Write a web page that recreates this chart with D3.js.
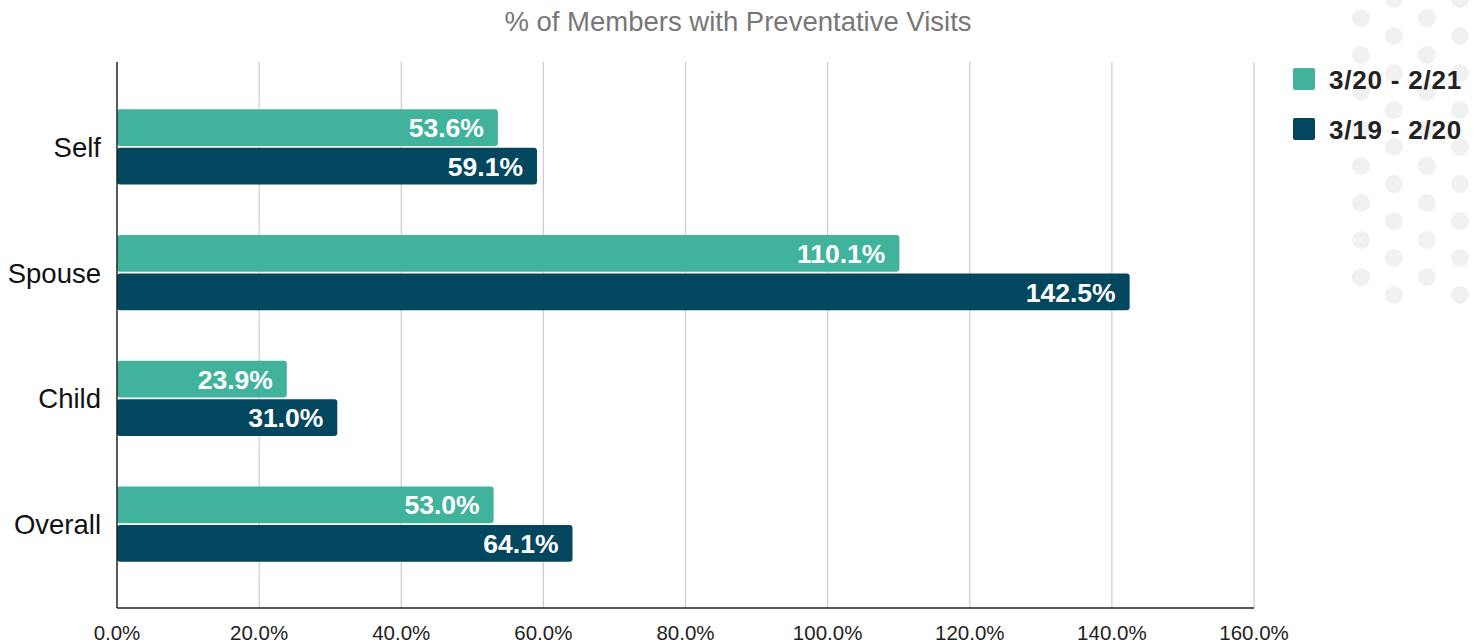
<!DOCTYPE html>
<html>
  <head>
    <title>Preventative Visits</title>
    <script src="https://d3js.org/d3.v7.min.js"></script>
    <style>
      body { margin: 0; background: white; }
      text { font-family: "Liberation Sans", Arial, sans-serif; }
    </style>
  </head>
  <body>
    <script>
      let width = 1481, height = 643;

      let categories = ["Self", "Spouse", "Child", "Overall"];
      let seriesNames = ["3/20 - 2/21", "3/19 - 2/20"];
      let current = [53.6, 110.1, 23.9, 53.0];
      let previous = [59.1, 142.5, 31.0, 64.1];
      let xTicks = [0, 20, 40, 60, 80, 100, 120, 140, 160];
      let colors = ["#41b39d", "#03465f"];

      let svg = d3.select("body").append("svg")
                  .attr("width", width)
                  .attr("height", height);

      // dotted decoration, top right
      let dots = svg.append("g");
      [1361, 1394, 1427, 1460].forEach(function(cx, i) {
        let start = i % 2 == 0 ? 18 : -1;
        for (let cy = start; cy < 300; cy += 37) {
          dots.append("circle").attr("cx", cx).attr("cy", cy).attr("r", 9).attr("fill", "#f1f1f1");
        }
      });

      let x = d3.scaleLinear().domain([0, 160]).range([117, 1254]);
      let y = d3.scaleBand().domain(categories).range([84, 587])
                .paddingInner(0.4).paddingOuter(0.2);
      let ySub = d3.scaleBand().domain([0, 1]).range([0, y.bandwidth()]).paddingInner(0.05);

      let plotTop = 62, plotBottom = 608;

      // grid lines
      svg.append("g").selectAll("line").data(xTicks.slice(1)).enter().append("line")
         .attr("x1", d => x(d)).attr("x2", d => x(d))
         .attr("y1", plotTop).attr("y2", plotBottom)
         .attr("stroke", "#cccccc").attr("stroke-width", 1.2);

      // x tick labels
      svg.append("g").selectAll("text").data(xTicks).enter().append("text")
         .attr("x", d => x(d))
         .attr("y", 640)
         .attr("text-anchor", "middle")
         .style("font-size", "20.5px")
         .style("fill", "#222")
         .text(d => d.toFixed(1) + "%");

      // bars
      let rows = categories.map(function(c, i) {
        return { cat: c, values: [current[i], previous[i]] };
      });

      let groups = svg.append("g").selectAll("g").data(rows).enter().append("g")
                      .attr("transform", d => `translate(0, ${y(d.cat)})`);

      groups.selectAll("rect").data(d => d.values).enter().append("rect")
            .attr("x", x(0))
            .attr("y", (d, i) => ySub(i))
            .attr("width", d => x(d) - x(0))
            .attr("height", ySub.bandwidth())
            .attr("rx", 3)
            .attr("fill", (d, i) => colors[i]);

      groups.selectAll("text.val").data(d => d.values).enter().append("text")
            .attr("class", "val")
            .attr("x", d => x(d) - 14)
            .attr("y", (d, i) => ySub(i) + ySub.bandwidth() / 2)
            .attr("dy", "0.36em")
            .attr("text-anchor", "end")
            .style("font-size", "26.5px")
            .style("font-weight", "bold")
            .style("fill", "white")
            .text(d => d.toFixed(1) + "%");

      // category labels
      svg.append("g").selectAll("text").data(categories).enter().append("text")
         .attr("x", 101)
         .attr("y", d => y(d) + y.bandwidth() / 2)
         .attr("dy", "0.36em")
         .attr("text-anchor", "end")
         .style("font-size", "27.5px")
         .style("fill", "#111")
         .text(d => d);

      // axis lines
      svg.append("line").attr("x1", x(0)).attr("x2", x(0)).attr("y1", plotTop).attr("y2", plotBottom)
         .attr("stroke", "#222").attr("stroke-width", 1.5);
      svg.append("line").attr("x1", x(0)).attr("x2", x(160)).attr("y1", plotBottom).attr("y2", plotBottom)
         .attr("stroke", "#222").attr("stroke-width", 1.5);

      // title
      svg.append("text").attr("x", 738).attr("y", 31)
         .attr("text-anchor", "middle")
         .style("font-size", "27.5px")
         .style("fill", "#777")
         .text("% of Members with Preventative Visits");

      // legend
      let legend = svg.append("g").selectAll("g").data(seriesNames).enter().append("g")
                      .attr("transform", (d, i) => `translate(1293, ${68 + i * 50})`);
      legend.append("rect").attr("width", 22).attr("height", 22).attr("rx", 2)
            .attr("fill", (d, i) => colors[i]);
      legend.append("text").attr("x", 36).attr("y", 21)
            .style("font-size", "26px")
            .style("font-weight", "bold")
            .style("letter-spacing", "0.8px")
            .style("fill", "#222")
            .text(d => d);
    </script>
  </body>
</html>
